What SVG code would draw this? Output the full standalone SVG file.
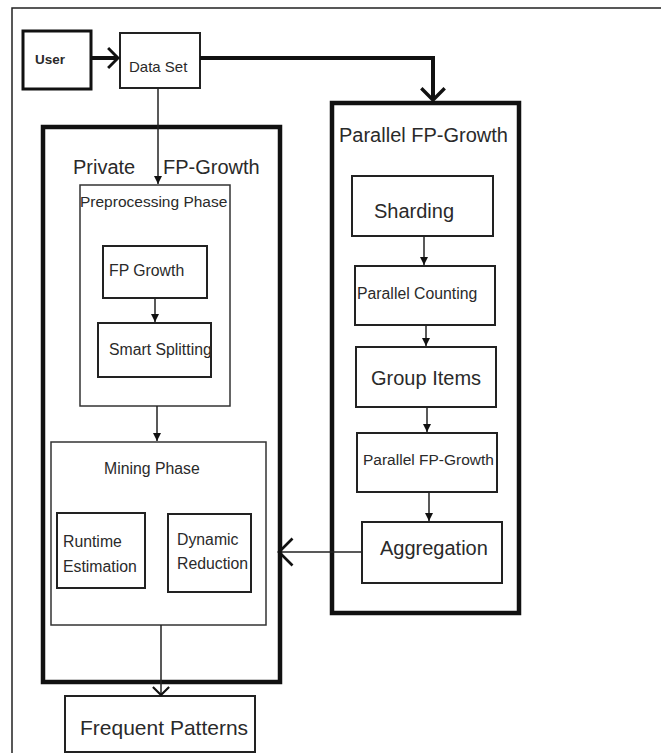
<svg xmlns="http://www.w3.org/2000/svg" width="661" height="755" viewBox="0 0 661 755">
  <defs>
    <style>
      .frame { fill: none; stroke: #222; stroke-width: 1.5; }
      .heavy { fill: #fff; stroke: #111; stroke-width: 4.5; }
      .box { fill: #fff; stroke: #222; stroke-width: 2; }
      .thin { fill: none; stroke: #333; stroke-width: 1.5; }
      .wire { fill: none; stroke: #222; stroke-width: 1.5; }
      .bold-wire { fill: none; stroke: #111; stroke-width: 4; }
      text { font-family: "Liberation Sans", Arial, sans-serif; fill: #2a2a2a; }
      .t-lg { font-size: 20px; }
      .t-md { font-size: 15.8px; }
    </style>
    <marker id="tri" viewBox="0 0 10 10" refX="10" refY="5" markerWidth="8" markerHeight="8" markerUnits="userSpaceOnUse" orient="auto">
      <path d="M0,0 L10,5 L0,10 z" fill="#111"/>
    </marker>
    <!-- open 45-degree chevrons, sized per use -->
    <marker id="chev-s" viewBox="0 0 20 20" refX="10" refY="10" markerWidth="18" markerHeight="18" markerUnits="userSpaceOnUse" orient="auto">
      <path d="M1,1 L10,10 L1,19" fill="none" stroke="#111" stroke-width="2.4"/>
    </marker>
    <marker id="chev-u" viewBox="0 0 20 20" refX="10" refY="10" markerWidth="22" markerHeight="22" markerUnits="userSpaceOnUse" orient="auto">
      <path d="M1,1 L10,10 L1,19" fill="none" stroke="#111" stroke-width="2.6"/>
    </marker>
    <marker id="chev-m" viewBox="0 0 20 20" refX="10" refY="10" markerWidth="26" markerHeight="26" markerUnits="userSpaceOnUse" orient="auto">
      <path d="M1,1 L10,10 L1,19" fill="none" stroke="#111" stroke-width="2.6"/>
    </marker>
    <marker id="chev-l" viewBox="0 0 20 20" refX="10" refY="10" markerWidth="30" markerHeight="30" markerUnits="userSpaceOnUse" orient="auto">
      <path d="M1,1 L10,10 L1,19" fill="none" stroke="#111" stroke-width="1.8"/>
    </marker>
  </defs>

  <rect width="661" height="755" fill="#fff"/>
  <path class="frame" d="M12,753 L12,8 L661,8"/>

  <!-- top-level containers -->
  <g id="private-fp-growth">
    <rect class="heavy" x="43" y="127" width="237" height="555"/>
    <text class="t-lg" x="73" y="174">Private</text>
    <text class="t-lg" x="163" y="174">FP-Growth</text>
  </g>
  <g id="parallel-fp-growth">
    <rect class="heavy" x="332" y="103" width="187" height="510"/>
    <text class="t-lg" x="339" y="142">Parallel FP-Growth</text>
  </g>

  <!-- inputs -->
  <g id="user">
    <rect x="23" y="31" width="68" height="58" fill="#fff" stroke="#111" stroke-width="3"/>
    <text x="35" y="64" font-size="13.5" font-weight="bold">User</text>
  </g>
  <g id="data-set">
    <rect class="box" x="120" y="33" width="80" height="55"/>
    <text x="129" y="72" font-size="15">Data Set</text>
  </g>

  <!-- private pipeline -->
  <g id="preprocessing-phase">
    <rect class="thin" x="80" y="185" width="150" height="221"/>
    <text x="80" y="207" font-size="15.5">Preprocessing Phase</text>
  </g>
  <g id="fp-growth">
    <rect class="box" x="103" y="246" width="104" height="52"/>
    <text class="t-md" x="109" y="276">FP Growth</text>
  </g>
  <g id="smart-splitting">
    <rect class="box" x="98" y="323" width="113" height="54"/>
    <text class="t-md" x="109" y="355">Smart Splitting</text>
  </g>
  <g id="mining-phase">
    <rect class="thin" x="51" y="442" width="215" height="183"/>
    <text class="t-md" x="104" y="474">Mining Phase</text>
  </g>
  <g id="runtime-estimation">
    <rect class="box" x="57" y="513" width="88" height="75"/>
    <text class="t-md" x="63" y="547">Runtime</text>
    <text class="t-md" x="63" y="572">Estimation</text>
  </g>
  <g id="dynamic-reduction">
    <rect class="box" x="168" y="514" width="83" height="78"/>
    <text class="t-md" x="177" y="545">Dynamic</text>
    <text class="t-md" x="177" y="569">Reduction</text>
  </g>
  <g id="frequent-patterns">
    <rect class="box" x="65" y="696" width="190" height="56"/>
    <text x="80" y="735" font-size="21">Frequent Patterns</text>
  </g>

  <!-- parallel pipeline -->
  <g id="sharding">
    <rect class="box" x="352" y="176" width="141" height="60"/>
    <text class="t-lg" x="374" y="218">Sharding</text>
  </g>
  <g id="parallel-counting">
    <rect class="box" x="355" y="266" width="140" height="59"/>
    <text class="t-md" x="357" y="299">Parallel Counting</text>
  </g>
  <g id="group-items">
    <rect class="box" x="356" y="347" width="140" height="60"/>
    <text class="t-lg" x="371" y="385">Group Items</text>
  </g>
  <g id="parallel-fp-growth-step">
    <rect class="box" x="357" y="433" width="140" height="59"/>
    <text x="363" y="465" font-size="15.5">Parallel FP-Growth</text>
  </g>
  <g id="aggregation">
    <rect class="box" x="362" y="522" width="140" height="61"/>
    <text class="t-lg" x="380" y="555">Aggregation</text>
  </g>

  <!-- connectors -->
  <g id="connectors">
    <path class="bold-wire" d="M91,58 L118,58" marker-end="url(#chev-u)"/>
    <path class="bold-wire" d="M200,58 L433,58 L433,100" marker-end="url(#chev-m)"/>
    <path class="wire" d="M158,88 L158,184" marker-end="url(#tri)"/>
    <path class="wire" d="M155,298 L155,322" marker-end="url(#tri)"/>
    <path class="wire" d="M157,406 L157,441" marker-end="url(#tri)"/>
    <path class="wire" d="M161,625 L161,695" marker-end="url(#chev-s)"/>
    <path class="wire" d="M424,236 L424,265" marker-end="url(#tri)"/>
    <path class="wire" d="M426,325 L426,346" marker-end="url(#tri)"/>
    <path class="wire" d="M427,407 L427,432" marker-end="url(#tri)"/>
    <path class="wire" d="M429,492 L429,521" marker-end="url(#tri)"/>
    <path class="wire" d="M362,552 L279,552" marker-end="url(#chev-l)"/>
  </g>
</svg>
